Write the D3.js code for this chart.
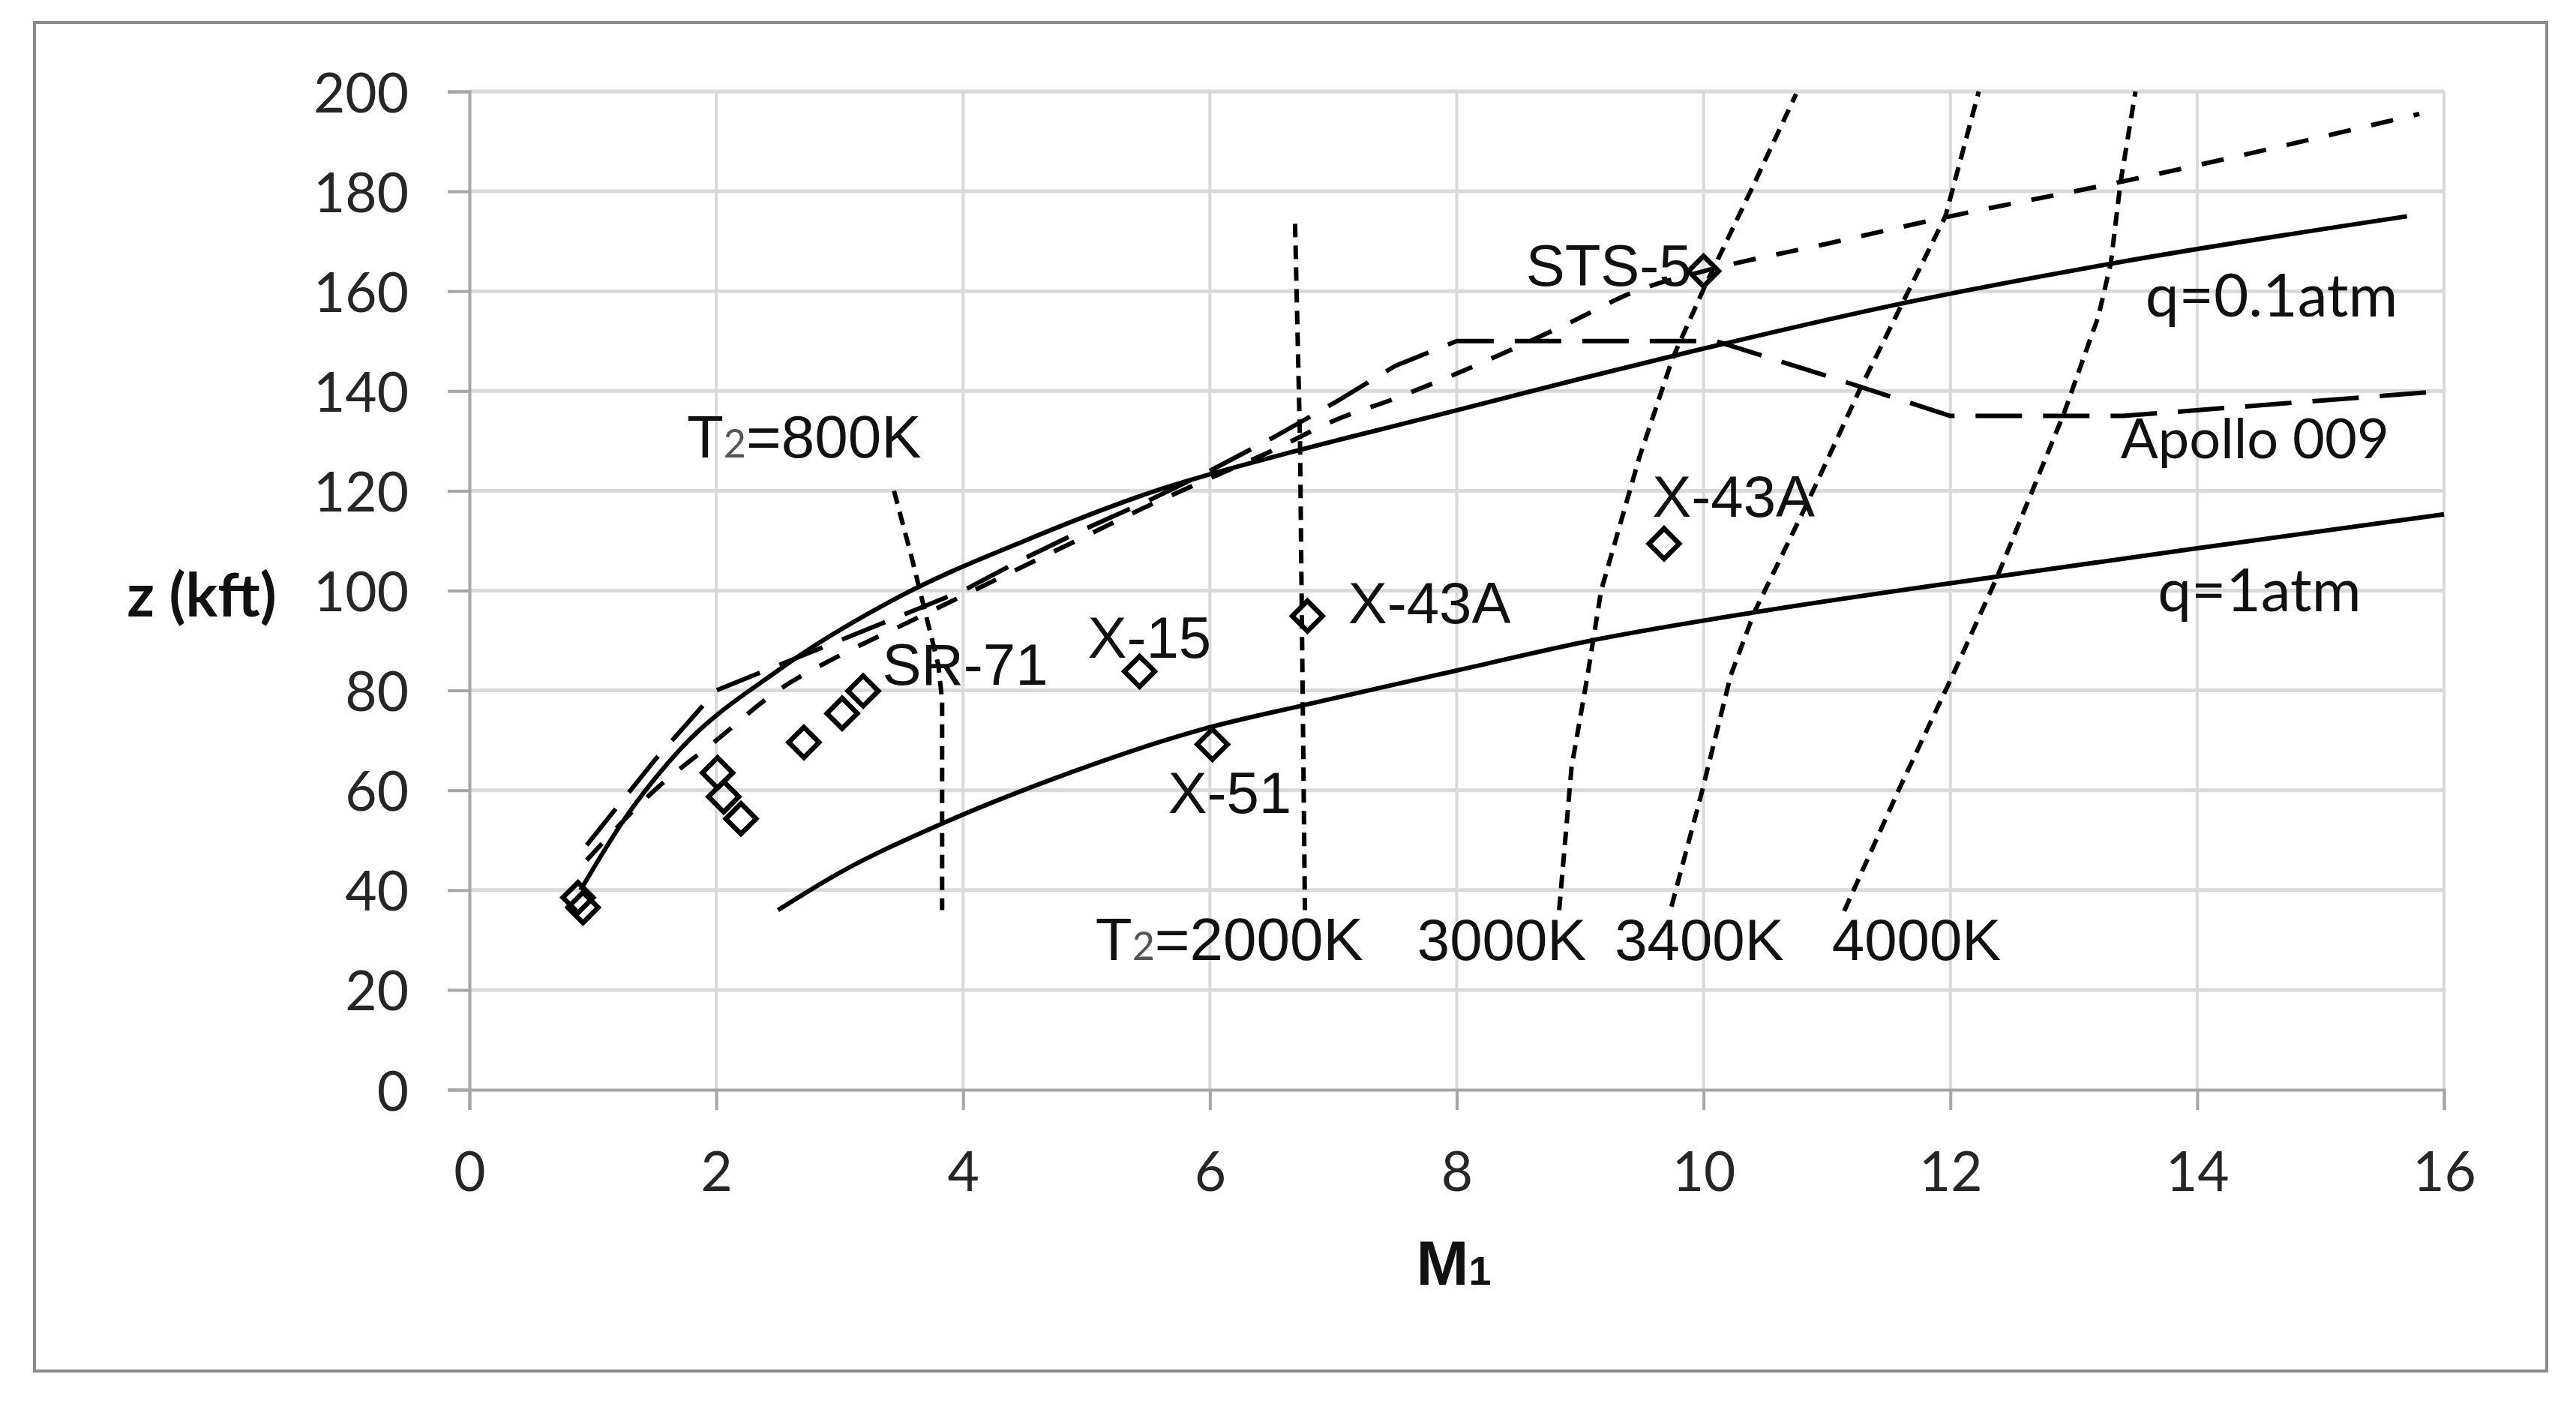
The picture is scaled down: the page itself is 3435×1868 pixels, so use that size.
<!DOCTYPE html>
<html>
<head>
<meta charset="utf-8">
<script src="https://cdn.jsdelivr.net/npm/d3@7"></script>
<style>
  body { margin: 0; background: #fff; }
  svg { display: block; }
</style>
</head>
<body>
<svg id="chart"></svg>
<script>
// ticks
const xTicks = [0, 2, 4, 6, 8, 10, 12, 14, 16];
const yTicks = [0, 20, 40, 60, 80, 100, 120, 140, 160, 180, 200];

// [M1, z (kft)]
const q01atm = [[0.9, 40], [1.25, 54], [1.7, 68], [2.5, 84], [3.5, 99], [4.5, 110], [5.5, 119.5], [6.7, 128], [7.74, 134.5], [8.93, 142], [9.75, 147], [11.6, 157.5], [13.3, 165.5], [15.7, 175]];
const q1atm = [[2.5, 36], [3, 43.5], [3.8, 53], [4.7, 62], [5.95, 72.3], [6.75, 77], [8, 84], [9.07, 89.9], [10.4, 95.6], [12.4, 102.9], [14, 108.5], [16, 115.3]];
const sts5 = [[0.95, 46], [1.5, 60], [2, 70], [2.5, 80], [3, 87], [3.5, 93], [4, 99], [4.5, 105], [5, 111], [5.5, 117], [6, 122.5], [6.5, 128], [7, 134], [7.5, 138.5], [8, 143.5], [8.9, 153.5], [9.45, 160], [10, 164], [11, 169.5], [12, 175], [13.4, 182], [15.8, 195.5]];
const apollo009 = [[0.95, 49], [1.5, 66], [2, 80], [2.5, 85], [3, 90], [3.5, 95], [4, 100], [4.5, 106.5], [5, 112.5], [5.5, 118], [6, 124], [6.5, 130.5], [7, 137.5], [7.5, 145], [8, 150], [10.1, 150], [11, 143], [12, 135], [13.4, 135], [16, 140]];
const t800 = [[3.44, 120], [3.58, 107], [3.7, 95], [3.8, 85], [3.83, 78], [3.83, 36]];
const t2000 = [[6.69, 173.5], [6.73, 130], [6.77, 36]];
const t3000 = [[8.83, 36], [8.93, 64.5], [9.06, 83], [9.17, 100], [9.48, 126.7], [9.75, 146.6], [10, 160.4], [10.4, 181], [10.75, 199.5]];
const t3400 = [[9.74, 36.7], [9.99, 60], [10.22, 83], [10.41, 95.6], [10.84, 117.5], [11.27, 140.5], [11.61, 157.5], [11.96, 175], [12.23, 200]];
const t4000 = [[11.14, 35.8], [11.58, 60], [12.02, 83.1], [12.38, 102.8], [12.92, 135.5], [13.2, 155], [13.3, 165.6], [13.38, 182], [13.5, 200]];

// flight points
const vehicles = [[0.88, 38.5], [0.92, 36.5], [2.01, 63.5], [2.06, 58.7], [2.2, 54.3], [2.71, 69.6], [3.02, 75.4], [3.19, 79.9], [5.43, 83.8], [6.02, 69.2], [6.79, 94.9], [9.68, 109.4], [10, 164]];

// annotation text, anchored at [M1, z] of its left baseline
const sansLabels = [
  { t: "SR-71", at: [3.345, 81.1] },
  { t: "X-15", at: [5.01, 86.5] },
  { t: "X-43A", at: [7.12, 93.4] },
  { t: "X-51", at: [5.66, 55.4] },
  { t: "X-43A", at: [9.585, 114.8] },
  { t: "STS-5", at: [8.56, 161.1] },
  { t: "3000K", at: [7.68, 26] },
  { t: "3400K", at: [9.28, 26] },
  { t: "4000K", at: [11.04, 26] }
];
const t2Labels = [
  { t: "=800K", at: [1.762, 126.7] },
  { t: "=2000K", at: [5.073, 26] }
];
const lineLabels = [
  { t: "q=0.1atm", at: [13.58, 154.9] },
  { t: "Apollo 009", at: [13.38, 126.5] },
  { t: "q=1atm", at: [13.68, 95.9] }
];

const W = 3435, H = 1868;
const svg = d3.select("#chart").attr("width", W).attr("height", H);

svg.append("rect")
  .attr("x", 46).attr("y", 30).attr("width", 3350).attr("height", 1798)
  .attr("fill", "#fff").attr("stroke", "#8a8a8a").attr("stroke-width", 4);

const x = d3.scaleLinear().domain([0, 16]).range([626, 3259]);
const y = d3.scaleLinear().domain([0, 200]).range([1453, 122]);

// grid
svg.append("g").selectAll("line").data(yTicks.slice(1)).enter().append("line")
  .attr("x1", x(0)).attr("x2", x(16))
  .attr("y1", d => y(d)).attr("y2", d => y(d))
  .attr("stroke", "#d9d9d9").attr("stroke-width", 5);
svg.append("g").selectAll("line").data(xTicks.slice(1)).enter().append("line")
  .attr("x1", d => x(d)).attr("x2", d => x(d))
  .attr("y1", y(0)).attr("y2", y(200))
  .attr("stroke", "#d9d9d9").attr("stroke-width", 4);

// axes
const yAxis = svg.append("g")
  .attr("transform", `translate(${x(0)},0)`)
  .call(d3.axisLeft(y).tickValues(yTicks).tickSize(29).tickPadding(52));
const xAxis = svg.append("g")
  .attr("transform", `translate(0,${y(0)})`)
  .call(d3.axisBottom(x).tickValues(xTicks).tickSize(27).tickPadding(56));
[yAxis, xAxis].forEach(g => {
  g.select(".domain").attr("stroke", "#a6a6a6").attr("stroke-width", 4);
  g.selectAll(".tick line").attr("stroke", "#a6a6a6").attr("stroke-width", 4);
  g.selectAll(".tick text")
    .attr("font-family", "Lato, 'Open Sans', sans-serif")
    .attr("font-size", 73).attr("fill", "#262626");
});
yAxis.selectAll(".tick text").attr("dy", "0.37em");
xAxis.selectAll(".tick text").attr("dy", "0.71em");

// axis titles
svg.append("text")
  .attr("x", 269).attr("y", 822)
  .attr("text-anchor", "middle")
  .attr("font-family", "Lato, sans-serif").attr("font-weight", "bold")
  .attr("font-size", 80).attr("fill", "#111")
  .text("z (kft)");
const mt = svg.append("text")
  .attr("x", x(8) - 4).attr("y", 1713)
  .attr("text-anchor", "middle")
  .attr("font-family", "'Liberation Sans', Arial, sans-serif").attr("font-weight", "bold")
  .attr("font-size", 84).attr("fill", "#111");
mt.append("tspan").text("M");
mt.append("tspan").attr("font-size", 54).text("1");

// curves
const smooth = d3.line().x(d => x(d[0])).y(d => y(d[1])).curve(d3.curveMonotoneX);
const straight = d3.line().x(d => x(d[0])).y(d => y(d[1]));

const series = [
  { d: t800, gen: straight, dash: "18,11" },
  { d: t2000, gen: straight, dash: "18,11" },
  { d: t3000, gen: straight, dash: "18,11" },
  { d: t3400, gen: straight, dash: "18,11" },
  { d: t4000, gen: straight, dash: "18,11" },
  { d: apollo009, gen: straight, dash: "62,28" },
  { d: sts5, gen: smooth, dash: "30,28" },
  { d: q1atm, gen: smooth, dash: null },
  { d: q01atm, gen: smooth, dash: null }
];
svg.append("g").selectAll("path").data(series).enter().append("path")
  .attr("d", s => s.gen(s.d))
  .attr("fill", "none")
  .attr("stroke", "#000")
  .attr("stroke-width", 6)
  .attr("stroke-linejoin", "round")
  .attr("stroke-dasharray", s => s.dash);

// diamonds
svg.append("g").selectAll("path").data(vehicles).enter().append("path")
  .attr("d", d3.symbol().type(d3.symbolSquare).size(820))
  .attr("transform", d => `translate(${x(d[0])},${y(d[1])}) rotate(45)`)
  .attr("fill", "none").attr("stroke", "#000").attr("stroke-width", 6.5);

// labels
svg.append("g").selectAll("text").data(sansLabels).enter().append("text")
  .attr("x", d => x(d.at[0])).attr("y", d => y(d.at[1]))
  .attr("font-family", "'Liberation Sans', Arial, sans-serif")
  .attr("font-size", 78).attr("fill", "#111")
  .text(d => d.t);

t2Labels.forEach(d => {
  const t = svg.append("text")
    .attr("x", x(d.at[0])).attr("y", y(d.at[1]))
    .attr("font-family", "'Liberation Sans', Arial, sans-serif")
    .attr("font-size", 80).attr("fill", "#111");
  t.append("tspan").text("T");
  t.append("tspan").attr("font-family", "Lato, sans-serif")
    .attr("font-size", 52).attr("fill", "#555").text("2");
  t.append("tspan").text(d.t);
});

svg.append("g").selectAll("text").data(lineLabels).enter().append("text")
  .attr("x", d => x(d.at[0])).attr("y", d => y(d.at[1]))
  .attr("font-family", "Lato, sans-serif")
  .attr("font-size", d => d.t === "Apollo 009" ? 74 : 80)
  .attr("fill", "#111")
  .text(d => d.t);
</script>
</body>
</html>
